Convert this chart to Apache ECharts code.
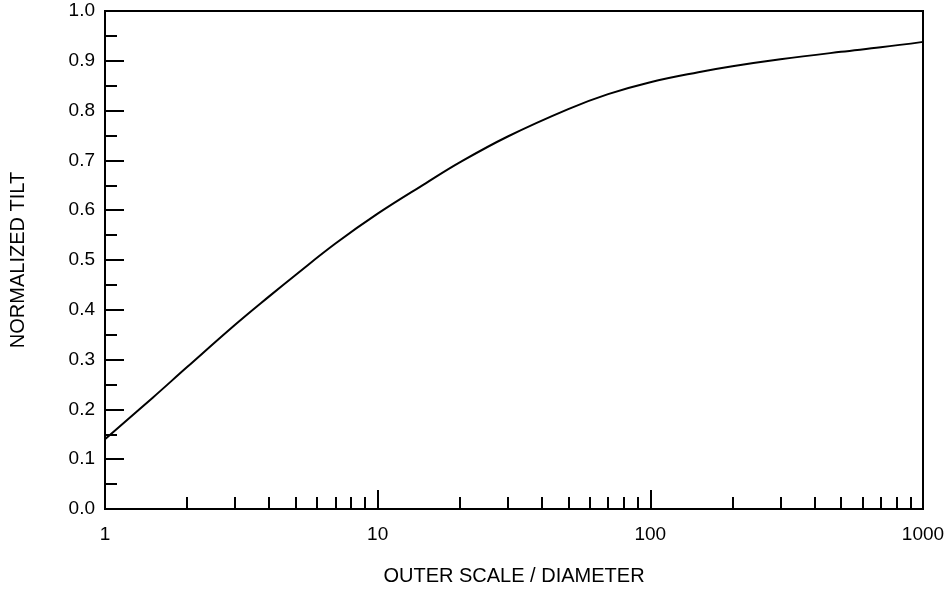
<!DOCTYPE html>
<html>
<head>
<meta charset="utf-8">
<script src="https://cdn.jsdelivr.net/npm/echarts@6/dist/echarts.min.js"></script>
<style>html,body{margin:0;padding:0;background:#fff}#c{width:951px;height:591px}</style>
</head>
<body>
<div id="c"></div>
<script>
// Data
const ratio = [1, 1.5, 2, 3, 4, 5, 7, 10, 15, 20, 30, 50, 70, 100, 150, 200, 300, 500, 700, 1000];
const tilt  = [0.14, 0.224, 0.285, 0.37, 0.427, 0.47, 0.533, 0.593, 0.654, 0.696, 0.748, 0.803, 0.833, 0.857, 0.877, 0.889, 0.903, 0.918, 0.927, 0.938];
const xMajorLabels = [1, 10, 100, 1000];
const xMinorTicks = [2,3,4,5,6,7,8,9,20,30,40,50,60,70,80,90,200,300,400,500,600,700,800,900];
const xDecadeTicks = [10, 100];

const font = '"Liberation Sans", Arial, Helvetica, sans-serif';
const chart = echarts.init(document.getElementById('c'));
chart.setOption({
  animation: false,
  backgroundColor: '#fff',
  grid: { left: 105, right: 28, top: 11, bottom: 81, show: true, borderColor: '#000', borderWidth: 2, backgroundColor: 'transparent' },
  xAxis: [{
    type: 'log', logBase: 10, min: 1, max: 1000,
    name: 'OUTER SCALE / DIAMETER', nameLocation: 'middle', nameGap: 57,
    nameTextStyle: { fontFamily: font, fontSize: 20, color: '#000' },
    axisLine: { show: true, lineStyle: { color: '#000', width: 2 } },
    axisTick: { show: true, inside: true, length: 12, lineStyle: { color: '#000', width: 2 }, customValues: xMinorTicks },
    axisLabel: { show: true, margin: 16, fontFamily: font, fontSize: 19, color: '#000', customValues: xMajorLabels, formatter: v => String(Math.round(v)) },
    splitLine: { show: false }, minorTick: { show: false }
  }, {
    type: 'log', logBase: 10, min: 1, max: 1000, position: 'bottom', gridIndex: 0,
    axisLine: { show: false },
    axisTick: { show: true, inside: true, length: 19, lineStyle: { color: '#000', width: 2 }, customValues: xDecadeTicks },
    axisLabel: { show: false }, splitLine: { show: false }
  }],
  yAxis: {
    type: 'value', min: 0, max: 1, interval: 0.1,
    name: 'NORMALIZED TILT', nameLocation: 'middle', nameGap: 77,
    nameTextStyle: { fontFamily: font, fontSize: 20, color: '#000' },
    axisLine: { show: true, lineStyle: { color: '#000', width: 2 } },
    axisTick: { show: true, inside: true, length: 19, lineStyle: { color: '#000', width: 2 } },
    minorTick: { show: true, splitNumber: 2, length: 12, lineStyle: { color: '#000', width: 2 } },
    axisLabel: { margin: 10, fontFamily: font, fontSize: 19, color: '#000', formatter: v => v.toFixed(1) },
    splitLine: { show: false }
  },
  series: [{
    type: 'line', xAxisIndex: 0, yAxisIndex: 0,
    data: ratio.map((r, i) => [r, tilt[i]]),
    smooth: 0.4, symbol: 'none',
    lineStyle: { color: '#000', width: 2 }
  }]
});
</script>
</body>
</html>
